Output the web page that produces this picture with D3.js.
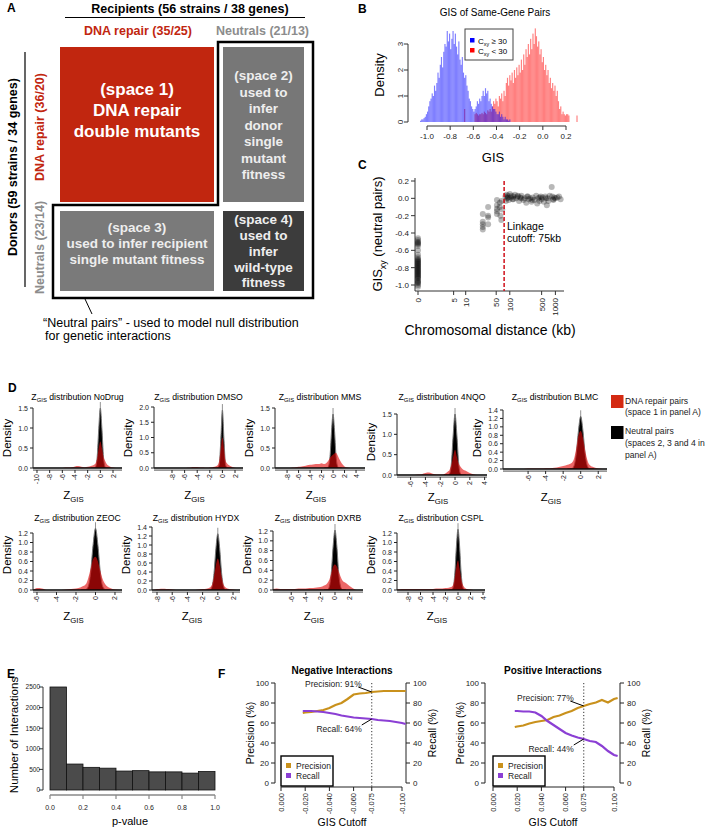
<!DOCTYPE html>
<html><head><meta charset="utf-8">
<script src="https://cdn.jsdelivr.net/npm/d3@7/dist/d3.min.js"></script>
<style>
html,body{margin:0;padding:0;background:#fff;}
svg{display:block;}
text{font-family:"Liberation Sans",Arial,Helvetica,sans-serif;}
</style></head><body>
<script>
// ================= DATA =================
// Panel B: histogram densities (bin width 0.01)
const bBinWidth = 0.01;
const bBlueStart = -1.06;
const bBlue = [0.05,0.1,0.1,0.15,0.2,0.3,0.4,0.6,0.8,0.9,
  1.1,1.0,1.4,1.2,1.5,1.9,1.7,2.2,2.5,2.1,
  2.7,3.0,2.9,3.5,3.1,3.4,2.8,3.2,3.5,3.0,
  3.4,2.9,2.6,3.1,2.4,2.2,2.5,1.9,1.7,1.8,
  1.4,1.2,0.9,0.8,0.6,0.5,0.4,0.5,0.6,0.8,
  0.7,0.9,0.8,1.0,1.2,1.0,1.3,1.1,1.2,0.8,
  0.9,0.7,0.6,0.5,0.5,0.4,0.3,0.3,0.4,0.2,
  0.3,0.2,0.1,0.2,0.1,0.1,0.05,0.1];
const bRedStart = -0.70;
const bRed = [0,0,0.5,0,0,0,0,0,0,0,
  0,0.3,0.35,0.3,0.25,0.3,0.3,0.35,0.3,0.4,
  0.35,0.3,0.45,0.4,0.5,0.4,0.6,0.8,0.7,0.9,
  0.8,0.6,1.0,0.9,1.1,0.8,1.2,1.0,1.5,1.7,
  1.4,1.8,1.6,1.9,1.5,2.0,1.7,2.1,1.8,2.2,
  1.9,2.4,2.0,2.6,2.2,2.8,2.5,3.0,2.6,3.2,
  2.8,3.4,3.0,3.6,3.3,2.9,3.1,2.6,2.8,2.3,
  2.5,2.0,2.2,1.8,2.0,1.5,1.7,1.3,1.5,1.2,
  1.4,1.0,1.2,0.8,0.5,0.6,0.3,0.4,0.3,0.25,
  0.3,0.3,0.25,0,0,0,0,0,0,0.25];
const bXTicks = [-1.0,-0.8,-0.6,-0.4,-0.2,0.0,0.2];
const bXTickLabels = ["-1.0","-0.8","-0.6","-0.4","-0.2","0.0","0.2"];
const bYTicks = [0,1,2,3];

// Panel C: chromosomal distance (kb) vs GIS of neutral pairs
const cDist = [0,0,0,0,0,0,0,0,0,0,0,0,0,0,0,0,0,0,0,0,0,0,0,0,0,0,0,0,0,0,0,0,0,0,0,0,0,0,0,0,
  25,25,25,25,25,33,33,33,33,52,52,52,52,52,60,60,62,65,66,68,
  80,82,85,88,90,95,100,105,110,115,120,130,140,150,160,170,180,200,210,230,
  250,260,280,300,320,350,380,400,420,450,480,500,520,560,600,650,680,700,750,830,
  850,900,950,1000,1100,1200,1300,90,120,150,180,240,310,450,620,900];
const cGis = [-0.46,-0.48,-0.5,-0.51,-0.52,-0.53,-0.55,-0.6,-0.65,-0.68,-0.7,-0.71,-0.72,-0.73,-0.74,-0.75,-0.76,-0.77,-0.78,-0.79,
  -0.8,-0.81,-0.82,-0.83,-0.84,-0.85,-0.86,-0.87,-0.88,-0.89,-0.9,-0.91,-0.92,-0.93,-0.95,-0.96,-0.97,-0.98,-1.0,-1.02,
  -0.18,-0.27,-0.3,-0.33,-0.36,-0.1,-0.2,-0.22,-0.3,-0.02,-0.08,-0.12,-0.15,-0.18,-0.05,-0.1,-0.2,-0.25,-0.03,-0.13,
  0.02,-0.03,0.04,0.0,0.03,-0.02,0.05,0.01,0.03,-0.01,0.02,0.04,0.0,0.02,-0.03,0.01,0.03,-0.02,0.0,-0.05,
  0.02,-0.01,0.0,-0.04,0.01,-0.02,0.03,-0.06,0.0,-0.03,0.02,-0.01,0.01,-0.04,0.02,-0.08,0.0,-0.03,0.03,0.13,
  0.02,-0.02,0.01,0.0,0.01,0.02,-0.01,0.01,-0.01,0.03,0.0,0.02,-0.02,0.01,0.0,-0.01];
const cXTicks = [0,5,10,50,100,500,1000];
const cYTicks = [0.2,0.0,-0.2,-0.4,-0.6,-0.8,-1.0];
const cYTickLabels = ["0.2","0.0","-0.2","-0.4","-0.6","-0.8","-1.0"];
const cCutoff = 75;

// Panel D: Z_GIS densities
const dNames = ["NoDrug","DMSO","MMS","4NQO","BLMC","ZEOC","HYDX","DXRB","CSPL"];
const dBlackX = [-1.5,-1,-0.75,-0.5,-0.25,0,0.25,0.5,0.75,1,1.5];
const dBlack = [
  [0,0,0.03,0.27,0.98,1.5,0.98,0.27,0.03,0,0],
  [0,0,0.01,0.11,0.93,1.9,0.93,0.11,0.01,0,0],
  [0,0.005,0.06,0.34,0.95,1.35,0.95,0.34,0.06,0.005,0],
  [0,0,0.03,0.27,0.98,1.5,0.98,0.27,0.03,0,0],
  [0,0.01,0.08,0.37,0.92,1.25,0.92,0.37,0.08,0.01,0],
  [0,0.01,0.07,0.36,0.94,1.3,0.94,0.36,0.07,0.01,0],
  [0,0.01,0.08,0.37,0.92,1.25,0.92,0.37,0.08,0.01,0],
  [0,0.01,0.08,0.36,0.9,1.22,0.9,0.36,0.08,0.01,0],
  [0,0.01,0.07,0.36,0.93,1.28,0.93,0.36,0.07,0.01,0]];
const dRedX = [-10,-9.5,-9,-8.5,-8,-7.5,-7,-6.5,-6,-5.5,-5,-4.5,-4,-3.5,-3,-2.5,-2,-1.5,-1,-0.75,-0.5,-0.25,0,0.25,0.5,0.75,1,1.5,2,2.5,3,3.5,4];
const dRed = [
  [0,0,0,0,0,0,0,0,0,0.01,0.01,0.02,0.04,0.05,0.03,0.02,0.03,0.05,0.08,0.12,0.25,0.5,0.66,0.5,0.28,0.18,0.1,0.04,0.01,0,0,0,0],
  [0,0,0,0,0,0,0,0,0,0.01,0.02,0.03,0.03,0.02,0.02,0.01,0.02,0.03,0.06,0.1,0.25,0.65,1.0,0.65,0.25,0.15,0.1,0.04,0.01,0,0,0,0],
  [0,0,0,0,0,0,0.01,0.02,0.03,0.04,0.05,0.07,0.08,0.09,0.1,0.1,0.12,0.1,0.15,0.2,0.26,0.3,0.33,0.36,0.38,0.33,0.25,0.12,0.04,0.01,0,0,0],
  [0,0,0,0,0,0,0,0,0,0,0.01,0.02,0.05,0.06,0.03,0.01,0.01,0.02,0.08,0.12,0.25,0.45,0.62,0.45,0.28,0.2,0.15,0.1,0.05,0.02,0,0,0],
  [0,0,0,0,0,0,0,0,0.01,0.01,0.01,0.01,0.02,0.02,0.03,0.05,0.07,0.1,0.15,0.25,0.5,0.8,0.9,0.75,0.45,0.22,0.1,0.04,0.01,0,0,0,0],
  [0,0,0,0,0,0,0,0,0.04,0.03,0,0,0,0,0.01,0.02,0.03,0.06,0.12,0.25,0.45,0.65,0.7,0.6,0.4,0.22,0.12,0.04,0.01,0,0,0,0],
  [0,0,0,0,0.02,0.03,0.03,0.02,0.01,0,0,0,0,0,0,0.01,0.02,0.03,0.06,0.12,0.3,0.55,0.7,0.55,0.3,0.12,0.06,0.02,0.01,0,0,0,0],
  [0,0.01,0.02,0.02,0.03,0.02,0.02,0.02,0.02,0.02,0.03,0.03,0.03,0.04,0.04,0.05,0.06,0.09,0.15,0.22,0.35,0.48,0.52,0.48,0.38,0.28,0.2,0.14,0.08,0.03,0,0,0],
  [0.01,0.01,0.02,0.02,0.02,0.02,0.02,0.02,0.02,0.02,0.02,0.02,0.02,0.03,0.03,0.03,0.04,0.05,0.07,0.12,0.28,0.5,0.62,0.45,0.25,0.12,0.06,0.02,0.01,0,0,0,0]];
const dXTicks = [[-10,-8,-6,-4,-2,0,2],[-8,-6,-4,-2,0,2],[-8,-6,-4,-2,0,2,4],[-6,-4,-2,0,2,4],[-6,-4,-2,0,2],
  [-6,-4,-2,0,2],[-8,-6,-4,-2,0,2],[-6,-4,-2,0,2],[-8,-6,-4,-2,0,2,4]];
const dYTicks = [[0,0.5,1.0,1.5],[0,0.5,1.0,1.5,2.0],[0,0.5,1.0,1.5],[0,0.5,1.0,1.5],[0,0.2,0.4,0.6,0.8,1.0,1.2,1.4],
  [0,0.2,0.4,0.6,0.8,1.0,1.2],[0,0.2,0.4,0.6,0.8,1.0,1.2,1.4],[0,0.2,0.4,0.6,0.8,1.0,1.2],[0,0.2,0.4,0.6,0.8,1.0,1.2]];

// Panel E: p-value histogram
const eBinEdges = [0,0.1,0.2,0.3,0.4,0.5,0.6,0.7,0.8,0.9,1.0];
const eCounts = [2500,630,550,530,460,470,440,440,410,450];
const eYTicks = [0,500,1000,1500,2000,2500];
const eXTicks = [0,0.2,0.4,0.6,0.8,1.0];
const eXTickLabels = ["0.0","0.2","0.4","0.6","0.8","1.0"];

// Panel F: precision / recall vs GIS cutoff
const fNegCut = [-0.018,-0.02,-0.025,-0.03,-0.035,-0.04,-0.045,-0.05,-0.055,-0.06,-0.065,-0.07,-0.075,-0.08,-0.085,-0.09,-0.095,-0.1,-0.103];
const fNegPrecision = [70,70.5,71,72,73,75,78,80,84,88.5,89.5,90,91,91.5,92,92,92,92,92];
const fNegRecall = [72,72,72,71.5,71,70,69,67.5,66.5,65.5,65,64.5,64,63,62.5,62,61,60,59];
const fPosCut = [0.018,0.02,0.025,0.03,0.035,0.04,0.045,0.05,0.055,0.06,0.065,0.07,0.075,0.08,0.085,0.09,0.095,0.1,0.103];
const fPosPrecision = [56,56.5,57.5,59.5,61,62,63,66,67.5,70,72,75,77,79,80.5,83,80.5,84,85];
const fPosRecall = [72,72,71.5,71.5,70.5,67,62,58,54,50,47.5,45.5,44,42,41,37,32,28,27];
const fNegTicks = [0,-0.02,-0.04,-0.06,-0.075,-0.1];
const fNegTickLabels = ["0.000","-0.020","-0.040","-0.060","-0.075","-0.100"];
const fPosTicks = [0,0.02,0.04,0.06,0.075,0.1];
const fPosTickLabels = ["0.000","0.020","0.040","0.060","0.075","0.100"];
const fYTicks = [0,20,40,60,80,100];
const fNegAnnot = [91,64];
const fPosAnnot = [77,44];

// ================= DRAWING =================
const svg = d3.select("body").append("svg").attr("width",709).attr("height",829);

function T(x,y,s,o={}){
  const t=svg.append("text").attr("x",x).attr("y",y).attr("font-size",o.size||10)
    .attr("fill",o.fill||"#000").attr("text-anchor",o.anchor||"start").text(s);
  if(o.bold) t.attr("font-weight","bold");
  if(o.rot) t.attr("transform",`rotate(${o.rot},${x},${y})`);
  return t;
}
function RT(x,y,parts,o={}){
  const size=o.size||10;
  const t=svg.append("text").attr("x",x).attr("y",y).attr("font-size",size)
    .attr("fill",o.fill||"#000").attr("text-anchor",o.anchor||"start");
  if(o.bold) t.attr("font-weight","bold");
  if(o.rot) t.attr("transform",`rotate(${o.rot},${x},${y})`);
  let down=false;
  parts.forEach(([s,isSub])=>{
    const ts=t.append("tspan").text(s);
    if(isSub){ts.attr("font-size",size*0.68); if(!down){ts.attr("dy",size*0.28);down=true;}}
    else if(down){ts.attr("dy",-size*0.28);down=false;}
  });
  return t;
}
function L(x1,y1,x2,y2,o={}){
  const l=svg.append("line").attr("x1",x1).attr("y1",y1).attr("x2",x2).attr("y2",y2)
    .attr("stroke",o.stroke||"#000").attr("stroke-width",o.w||1);
  if(o.dash) l.attr("stroke-dasharray",o.dash);
  return l;
}

// ---------- Panel A ----------
const cRed="#c1260f", cGrayTxt="#8c8c8c";
T(7,12,"A",{size:12,bold:true});
T(190,13,"Recipients (56 strains / 38 genes)",{size:12.5,bold:true,anchor:"middle"});
L(65,17.5,305,17.5,{w:1.2});
T(138,35,"DNA repair (35/25)",{size:12.5,bold:true,fill:cRed,anchor:"middle"});
T(262.5,35,"Neutrals (21/13)",{size:12.5,bold:true,fill:cGrayTxt,anchor:"middle"});
svg.append("rect").attr("x",60).attr("y",47).attr("width",154).attr("height",155).attr("fill",cRed);
svg.append("rect").attr("x",223).attr("y",47).attr("width",81).attr("height",155).attr("fill","#777");
svg.append("rect").attr("x",60).attr("y",211).attr("width",154).attr("height",80).attr("fill","#7a7a7a");
svg.append("rect").attr("x",223).attr("y",211).attr("width",81).attr("height",80).attr("fill","#3c3c3c");
svg.append("path").attr("d","M218,42 H313 V298 H53 V205 H218 Z").attr("fill","none")
  .attr("stroke","#000").attr("stroke-width",2.5);
T(17,167,"Donors (59 strains / 34 genes)",{size:12.5,bold:true,rot:-90,anchor:"middle"});
L(25,52,25,287,{w:1.2});
T(44,127,"DNA repair (36/20)",{size:12.5,bold:true,fill:cRed,rot:-90,anchor:"middle"});
T(44,247.5,"Neutrals (23/14)",{size:12.5,bold:true,fill:cGrayTxt,rot:-90,anchor:"middle"});
[["(space 1)",95],["DNA repair",115.5],["double mutants",136.5]].forEach(([s,y])=>T(137,y,s,{size:17,bold:true,fill:"#fff",anchor:"middle"}));
[["(space 2)",80],["used to",96.5],["infer",113],["donor",129.5],["single",146],["mutant",162.5],["fitness",179]].forEach(([s,y])=>T(263.5,y,s,{size:13.5,bold:true,fill:"#eee",anchor:"middle"}));
[["(space 3)",231.5],["used to infer recipient",247.5],["single mutant fitness",263.5]].forEach(([s,y])=>T(137,y,s,{size:13.5,bold:true,fill:"#eee",anchor:"middle"}));
[["(space 4)",224],["used to",240],["infer",255.5],["wild-type",271.5],["fitness",287]].forEach(([s,y])=>T(263.5,y,s,{size:13.5,bold:true,fill:"#eee",anchor:"middle"}));
L(85,299,92,314,{w:1});
T(43,327,"\u201cNeutral pairs\u201d - used to model null distribution",{size:12.5});
T(45,340,"for genetic interactions",{size:12.5});

// ---------- Panel B ----------
const bx=d3.scaleLinear().domain([-1.0,0.2]).range([427,566]);
const by=d3.scaleLinear().domain([0,3]).range([122,44]);
T(358,13,"B",{size:12,bold:true});
T(495,16,"GIS of Same-Gene Pairs",{size:10,anchor:"middle"});
svg.append("g").selectAll("rect").data(bRed).join("rect")
  .attr("x",(d,i)=>bx(bRedStart+i*bBinWidth)).attr("width",(d,i)=>bx(bRedStart+(i+1)*bBinWidth)-bx(bRedStart+i*bBinWidth))
  .attr("y",d=>by(d)).attr("height",d=>by(0)-by(d)).attr("fill","rgba(255,0,0,0.5)");
svg.append("g").selectAll("rect").data(bBlue).join("rect")
  .attr("x",(d,i)=>bx(bBlueStart+i*bBinWidth)).attr("width",(d,i)=>bx(bBlueStart+(i+1)*bBinWidth)-bx(bBlueStart+i*bBinWidth))
  .attr("y",d=>by(d)).attr("height",d=>by(0)-by(d)).attr("fill","rgba(0,0,255,0.5)");
L(408,by(3),408,by(0),{stroke:"#333"});
bYTicks.forEach(t=>{L(404,by(t),408,by(t),{stroke:"#333"});T(403,by(t),String(t),{size:8,rot:-90,anchor:"middle",fill:"#222"});});
L(bx(-1),126,bx(0.2),126,{stroke:"#333"});
bXTicks.forEach((t,i)=>{L(bx(t),126,bx(t),130,{stroke:"#333"});T(bx(t),139,bXTickLabels[i],{size:8,anchor:"middle",fill:"#222"});});
T(384,75,"Density",{size:13,rot:-90,anchor:"middle"});
T(493,162,"GIS",{size:13,anchor:"middle"});
svg.append("rect").attr("x",465).attr("y",29).attr("width",48).attr("height",31).attr("fill","#fff").attr("stroke","#444").attr("stroke-width",1);
svg.append("rect").attr("x",470).attr("y",38).attr("width",4.5).attr("height",4.5).attr("fill","#00f");
svg.append("rect").attr("x",470).attr("y",48).attr("width",4.5).attr("height",4.5).attr("fill","#f00");
RT(478,43.5,[["C",0],["xy",1],[" \u2265 30",0]],{size:8});
RT(478,53.5,[["C",0],["xy",1],[" < 30",0]],{size:8});

// ---------- Panel C ----------
const cxs=d3.scaleLog().domain([1,1001]).range([418,555.4]);
const cx=d=>cxs(d+1);
const cy=d3.scaleLinear().domain([-1,0.2]).range([285,181]);
T(358,169,"C",{size:12,bold:true});
svg.append("path").attr("d","M415,178 V291 H564").attr("fill","none").attr("stroke","#333");
cYTicks.forEach((t,i)=>{L(411,cy(t),415,cy(t),{stroke:"#333"});T(409,cy(t)+3,cYTickLabels[i],{size:8,anchor:"end",fill:"#222"});});
cXTicks.forEach(t=>{L(cx(t),291,cx(t),295,{stroke:"#333"});T(cx(t)+3,298,String(t),{size:8,rot:-90,anchor:"end",fill:"#222"});});
svg.append("g").selectAll("circle").data(cDist).join("circle")
  .attr("cx",d=>cx(d)).attr("cy",(d,i)=>cy(cGis[i])).attr("r",3).attr("fill","#000").attr("fill-opacity",0.28);
L(cx(cCutoff),181,cx(cCutoff),291,{stroke:"#d0101b",w:1.5,dash:"4,2"});
T(507,230,"Linkage",{size:10.5});
T(507,242,"cutoff: 75kb",{size:10.5});
RT(382,234,[["GIS",0],["xy",1],[" (neutral pairs)",0]],{size:13,rot:-90,anchor:"middle"});
T(490,335,"Chromosomal distance (kb)",{size:14,anchor:"middle"});

// ---------- Panel D ----------
T(8,392,"D",{size:12,bold:true});
const dLayout = [
  {ax:33,right:122,x0:-10.63,x1:3.42,y0:468,top:408,tY:400,lY:499,dY:438},
  {ax:154,right:243,x0:-10.86,x1:3.27,y0:468,top:407,tY:400,lY:499,dY:438},
  {ax:275,right:365,x0:-10.1,x1:5.56,y0:468,top:408,tY:400,lY:499,dY:438},
  {ax:397,right:487,x0:-7.84,x1:4.32,y0:475,top:414,tY:400,lY:501,dY:442},
  {ax:503,right:607,x0:-8.86,x1:3.0,y0:469,top:410,tY:400,lY:501,dY:438},
  {ax:33,right:122,x0:-6.41,x1:2.72,y0:590,top:533,tY:521,lY:620,dY:555},
  {ax:152,right:240,x0:-8.66,x1:2.92,y0:590,top:527,tY:521,lY:620,dY:555},
  {ax:273,right:363,x0:-8.5,x1:3.84,y0:590,top:531,tY:521,lY:620,dY:555},
  {ax:397,right:485,x0:-9.76,x1:4.32,y0:590,top:533,tY:521,lY:620,dY:555}];
const defs=svg.append("defs");
dNames.forEach((name,i)=>{
  const G=dLayout[i];
  const yt=dYTicks[i];
  const x=d3.scaleLinear().domain([G.x0,G.x1]).range([G.ax,G.right]);
  const y=d3.scaleLinear().domain([0,yt[yt.length-1]]).range([G.y0,G.top]);
  defs.append("clipPath").attr("id","clipD"+i).append("rect")
    .attr("x",G.ax).attr("y",G.top-30).attr("width",G.right-G.ax).attr("height",G.y0-G.top+30);
  const g=svg.append("g").attr("clip-path",`url(#clipD${i})`);
  const area=d3.area().x(d=>x(d[0])).y0(y(0)).y1(d=>y(d[1])).curve(d3.curveMonotoneX);
  const bd=dBlackX.map((v,k)=>[v,dBlack[i][k]]);
  const rd=dRedX.map((v,k)=>[v,dRed[i][k]]);
  const peak=d3.max(dBlack[i]);
  g.append("line").attr("x1",x(0)).attr("x2",x(0)).attr("y1",y(0)).attr("y2",y(peak)-6).attr("stroke","#777").attr("stroke-width",0.8);
  g.append("path").attr("d",area(bd)).attr("fill","#000").attr("stroke","#777").attr("stroke-width",1);
  g.append("path").attr("d",area(rd)).attr("fill","rgba(225,10,10,0.62)");
  L(G.ax,G.y0,G.right,G.y0,{stroke:"#000",w:1.3});
  L(G.ax,G.y0+2.2,G.right,G.y0+2.2,{stroke:"#999",w:1.8});
  dXTicks[i].forEach(t=>{L(x(t),G.y0+2,x(t),G.y0+5,{stroke:"#222"});
    T(x(t)+2.5,G.y0+6,String(t),{size:7,rot:-90,anchor:"end",fill:"#222"});});
  L(G.ax,y(0),G.ax,y(yt[yt.length-1]),{stroke:"#222"});
  yt.forEach(t=>{L(G.ax-3,y(t),G.ax,y(t),{stroke:"#222"});T(G.ax-5,y(t)+2.5,d3.format(".1f")(t),{size:7,anchor:"end",fill:"#222"});});
  RT((G.ax+G.right)/2,G.tY,[["Z",0],["GIS",1],[" distribution "+name,0]],{size:8.7,anchor:"middle"});
  RT((G.ax+G.right)/2-4,G.lY,[["Z",0],["GIS",1]],{size:11.5,anchor:"middle"});
  T(G.ax-22.5,G.dY,"Density",{size:11.5,rot:-90,anchor:"middle"});
});
svg.append("rect").attr("x",611).attr("y",395).attr("width",12.5).attr("height",13).attr("fill","#d42a12");
svg.append("rect").attr("x",611).attr("y",426).attr("width",12.5).attr("height",13).attr("fill","#000");
T(625,403.5,"DNA repair pairs",{size:8.6,fill:"#222"});
T(625,415,"(space 1 in panel A)",{size:8.6,fill:"#222"});
T(625,433.5,"Neutral pairs",{size:8.6,fill:"#222"});
T(625,446,"(spaces 2, 3 and 4 in",{size:8.6,fill:"#222"});
T(625,457.5,"panel A)",{size:8.6,fill:"#222"});

// ---------- Panel E ----------
const ex=d3.scaleLinear().domain([0,1]).range([50,215]);
const ey=d3.scaleLinear().domain([0,2500]).range([790,687]);
T(7,678,"E",{size:12,bold:true});
svg.append("g").selectAll("rect").data(eCounts).join("rect")
  .attr("x",(d,i)=>ex(eBinEdges[i])).attr("width",(d,i)=>ex(eBinEdges[i+1])-ex(eBinEdges[i]))
  .attr("y",d=>ey(d)).attr("height",d=>ey(0)-ey(d)).attr("fill","#4b4b4b").attr("stroke","#111").attr("stroke-width",0.8);
L(43,ey(0),43,ey(2500),{stroke:"#333"});
eYTicks.forEach(t=>{L(39,ey(t),43,ey(t),{stroke:"#333"});T(40,ey(t)+2.3,String(t),{size:6.5,anchor:"end",fill:"#222"});});
L(ex(0),795,ex(1),795,{stroke:"#888",w:1.5});
eXTicks.forEach((t,i)=>{L(ex(t),795,ex(t),799,{stroke:"#888",w:1.2});T(ex(t),810,eXTickLabels[i],{size:7,anchor:"middle",fill:"#222"});});
T(18,735,"Number of Interactions",{size:11.5,rot:-90,anchor:"middle"});
T(130,825,"p-value",{size:11,anchor:"middle"});

// ---------- Panel F ----------
T(218,678,"F",{size:12,bold:true});
const colPrec="#c9911c", colRec="#8b3fd4";
function drawF(o){
  const x=d3.scaleLinear().domain([0,o.xEnd]).range([o.x0,o.x1]);
  const y=d3.scaleLinear().domain([0,100]).range([783,683]);
  T(o.titleX,674,o.title,{size:10,bold:true,anchor:"middle"});
  L(o.axL,683,o.axL,783,{stroke:"#222"});
  L(o.axR,683,o.axR,783,{stroke:"#222"});
  fYTicks.forEach(t=>{
    L(o.axL-4,y(t),o.axL,y(t),{stroke:"#222"});T(o.axL-6,y(t)+3,String(t),{size:8,anchor:"end",fill:"#222"});
    L(o.axR,y(t),o.axR+4,y(t),{stroke:"#222"});T(o.axR+7,y(t)+3,String(t),{size:8,fill:"#222"});
  });
  L(x(0),787,x(o.xEnd),787,{stroke:"#222"});
  o.ticks.forEach((t,i)=>{L(x(t),787,x(t),791,{stroke:"#222"});T(x(t)+2.5,793,o.tickLabels[i],{size:7.5,rot:-90,anchor:"end",fill:"#222"});});
  T(o.axL-21,733,"Precision (%)",{size:10.5,rot:-90,anchor:"middle"});
  T(o.axR+30,733,"Recall (%)",{size:10.5,rot:-90,anchor:"middle"});
  T(o.titleX,826,"GIS Cutoff",{size:10.5,anchor:"middle"});
  const xc=x(o.cut);
  L(xc,683,xc,787,{stroke:"#333",dash:"1.2,2"});
  const line=d3.line().x(d=>x(d[0])).y(d=>y(d[1]));
  svg.append("path").attr("d",line(o.cuts.map((c,k)=>[c,o.prec[k]]))).attr("fill","none").attr("stroke",colPrec).attr("stroke-width",2.2);
  svg.append("path").attr("d",line(o.cuts.map((c,k)=>[c,o.rec[k]]))).attr("fill","none").attr("stroke",colRec).attr("stroke-width",2.2);
  const yp=y(o.annot[0]), yr=y(o.annot[1]);
  T(xc-10,yp-5,`Precision: ${o.annot[0]}%`,{size:8.5,anchor:"end",fill:"#222"});
  L(xc-13.5,yp-5,xc,yp,{stroke:"#000"});
  T(xc-10,yr+13,`Recall: ${o.annot[1]}%`,{size:8.5,anchor:"end",fill:"#222"});
  L(xc-10,yr+6,xc,yr,{stroke:"#000"});
  const bx0=x(0);
  svg.append("rect").attr("x",bx0).attr("y",756).attr("width",52).attr("height",30).attr("fill","#fff").attr("stroke","#000").attr("stroke-width",1.4);
  svg.append("rect").attr("x",bx0+5).attr("y",763).attr("width",5).attr("height",5).attr("fill",colPrec);
  svg.append("rect").attr("x",bx0+5).attr("y",773).attr("width",5).attr("height",5).attr("fill",colRec);
  T(bx0+15,769,"Precision",{size:8.5,fill:"#222"});
  T(bx0+15,779,"Recall",{size:8.5,fill:"#222"});
}
drawF({xEnd:-0.1,x0:281,x1:402,axL:275,axR:406,titleX:342,title:"Negative Interactions",
  ticks:fNegTicks,tickLabels:fNegTickLabels,cut:-0.075,cuts:fNegCut,prec:fNegPrecision,rec:fNegRecall,annot:fNegAnnot});
drawF({xEnd:0.1,x0:493,x1:614,axL:485,axR:620,titleX:553,title:"Positive Interactions",
  ticks:fPosTicks,tickLabels:fPosTickLabels,cut:0.075,cuts:fPosCut,prec:fPosPrecision,rec:fPosRecall,annot:fPosAnnot});
</script>
</body></html>
